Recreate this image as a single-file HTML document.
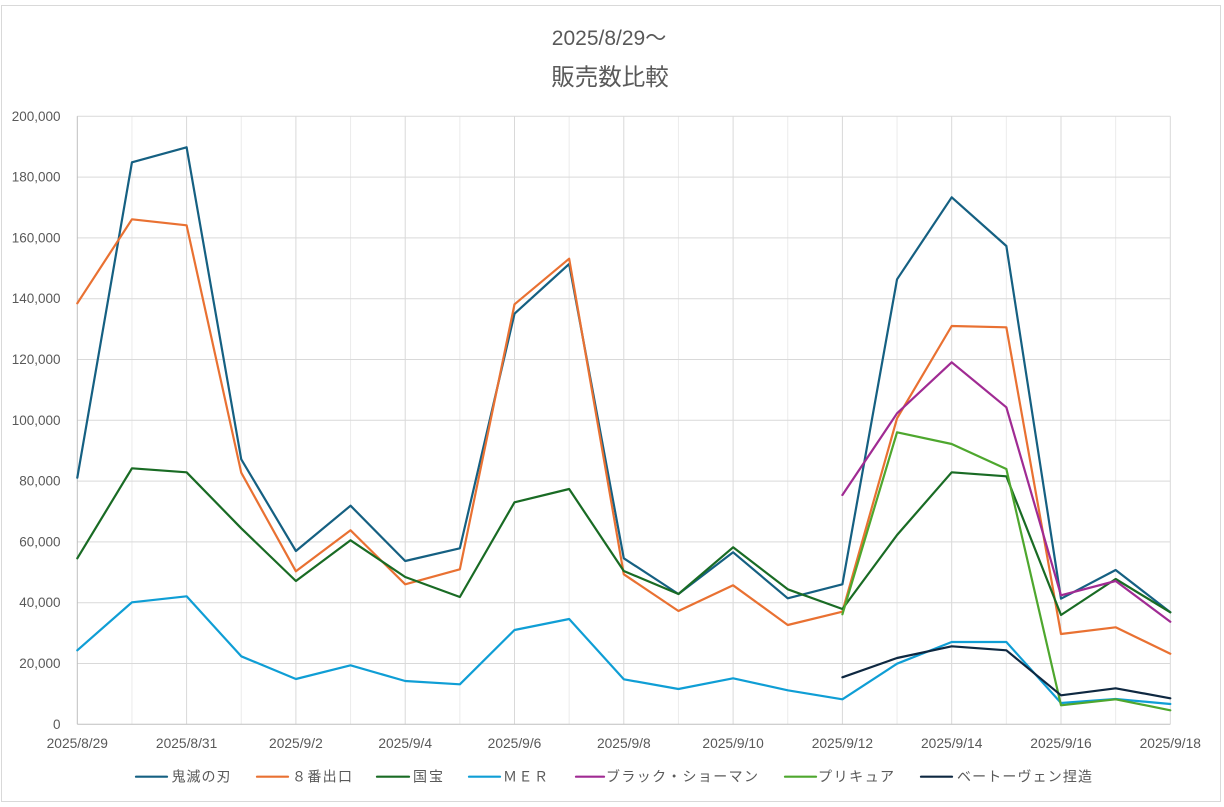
<!DOCTYPE html>
<html>
<head>
<meta charset="utf-8">
<style>
  html,body{margin:0;padding:0;background:#fff;}
  svg{display:block;}
  text{font-family:"Liberation Sans","Noto Sans CJK JP",sans-serif;fill:#595959;}
</style>
</head>
<body>
<svg width="1224" height="807" viewBox="0 0 1224 807" xmlns="http://www.w3.org/2000/svg">
  <rect x="0" y="0" width="1224" height="807" fill="#ffffff"/>
  <rect x="1.5" y="5.5" width="1219" height="796" fill="#ffffff" stroke="#d9d9d9" stroke-width="1"/>

  <!-- Title -->
  <text x="609" y="45" font-size="21" text-anchor="middle">2025/8/29～</text>
  <text x="610" y="85" font-size="23.5" text-anchor="middle">販売数比較</text>

  <!-- minor vertical gridlines -->
  <g stroke="#ececec" stroke-width="1">
    <line x1="131.95" y1="116.3" x2="131.95" y2="724.3"/>
    <line x1="241.25" y1="116.3" x2="241.25" y2="724.3"/>
    <line x1="350.55" y1="116.3" x2="350.55" y2="724.3"/>
    <line x1="459.85" y1="116.3" x2="459.85" y2="724.3"/>
    <line x1="569.15" y1="116.3" x2="569.15" y2="724.3"/>
    <line x1="678.45" y1="116.3" x2="678.45" y2="724.3"/>
    <line x1="787.75" y1="116.3" x2="787.75" y2="724.3"/>
    <line x1="897.05" y1="116.3" x2="897.05" y2="724.3"/>
    <line x1="1006.35" y1="116.3" x2="1006.35" y2="724.3"/>
    <line x1="1115.65" y1="116.3" x2="1115.65" y2="724.3"/>
  </g>
  <!-- major vertical gridlines -->
  <g stroke="#d9d9d9" stroke-width="1">
    <line x1="186.6" y1="116.3" x2="186.6" y2="724.3"/>
    <line x1="295.9" y1="116.3" x2="295.9" y2="724.3"/>
    <line x1="405.2" y1="116.3" x2="405.2" y2="724.3"/>
    <line x1="514.5" y1="116.3" x2="514.5" y2="724.3"/>
    <line x1="623.8" y1="116.3" x2="623.8" y2="724.3"/>
    <line x1="733.1" y1="116.3" x2="733.1" y2="724.3"/>
    <line x1="842.4" y1="116.3" x2="842.4" y2="724.3"/>
    <line x1="951.7" y1="116.3" x2="951.7" y2="724.3"/>
    <line x1="1061" y1="116.3" x2="1061" y2="724.3"/>
    <line x1="1170.3" y1="116.3" x2="1170.3" y2="724.3"/>
  </g>
  <!-- horizontal gridlines -->
  <g stroke="#d9d9d9" stroke-width="1">
    <line x1="77.3" y1="116.3" x2="1170.3" y2="116.3"/>
    <line x1="77.3" y1="177.1" x2="1170.3" y2="177.1"/>
    <line x1="77.3" y1="237.9" x2="1170.3" y2="237.9"/>
    <line x1="77.3" y1="298.7" x2="1170.3" y2="298.7"/>
    <line x1="77.3" y1="359.5" x2="1170.3" y2="359.5"/>
    <line x1="77.3" y1="420.3" x2="1170.3" y2="420.3"/>
    <line x1="77.3" y1="481.1" x2="1170.3" y2="481.1"/>
    <line x1="77.3" y1="541.9" x2="1170.3" y2="541.9"/>
    <line x1="77.3" y1="602.7" x2="1170.3" y2="602.7"/>
    <line x1="77.3" y1="663.5" x2="1170.3" y2="663.5"/>
  </g>
  <!-- axes -->
  <g stroke="#bfbfbf" stroke-width="1">
    <line x1="77.3" y1="116.3" x2="77.3" y2="724.3"/>
    <line x1="77.3" y1="724.3" x2="1170.3" y2="724.3"/>
  </g>

  <!-- Y labels -->
  <g font-size="13.5" text-anchor="end">
    <text x="60.5" y="120.8">200,000</text>
    <text x="60.5" y="181.6">180,000</text>
    <text x="60.5" y="242.4">160,000</text>
    <text x="60.5" y="303.2">140,000</text>
    <text x="60.5" y="364">120,000</text>
    <text x="60.5" y="424.8">100,000</text>
    <text x="60.5" y="485.6">80,000</text>
    <text x="60.5" y="546.4">60,000</text>
    <text x="60.5" y="607.2">40,000</text>
    <text x="60.5" y="668">20,000</text>
    <text x="60.5" y="728.8">0</text>
  </g>
  <!-- X labels -->
  <g font-size="13.8" text-anchor="middle">
    <text x="77.3" y="748">2025/8/29</text>
    <text x="186.6" y="748">2025/8/31</text>
    <text x="295.9" y="748">2025/9/2</text>
    <text x="405.2" y="748">2025/9/4</text>
    <text x="514.5" y="748">2025/9/6</text>
    <text x="623.8" y="748">2025/9/8</text>
    <text x="733.1" y="748">2025/9/10</text>
    <text x="842.4" y="748">2025/9/12</text>
    <text x="951.7" y="748">2025/9/14</text>
    <text x="1061" y="748">2025/9/16</text>
    <text x="1170.3" y="748">2025/9/18</text>
  </g>

  <!-- Series -->
  <g fill="none" stroke-width="2.2" stroke-linejoin="round" stroke-linecap="round">
    <polyline stroke="#156082" points="77.3,477.7 131.95,162.3 186.6,147.3 241.25,459.3 295.9,551 350.55,505.7 405.2,561 459.85,548.3 514.5,313.7 569.15,264 623.8,558.3 678.45,594 733.1,552.3 787.75,598.3 842.4,584.3 897.05,279.3 951.7,197.3 1006.35,246 1061,598.7 1115.65,570 1170.3,612.3"/>
    <polyline stroke="#E97132" points="77.3,303.3 131.95,219.3 186.6,225.3 241.25,472.7 295.9,571.3 350.55,530.3 405.2,584.3 459.85,569.3 514.5,304.3 569.15,258.7 623.8,574.3 678.45,611 733.1,585.3 787.75,625 842.4,611.7 897.05,418.3 951.7,326 1006.35,327.3 1061,634 1115.65,627.3 1170.3,653.7"/>
    <polyline stroke="#196B24" points="77.3,558.3 131.95,468.3 186.6,472.3 241.25,528.3 295.9,581 350.55,540.3 405.2,577 459.85,597 514.5,502.3 569.15,489 623.8,571 678.45,594 733.1,547.3 787.75,589.3 842.4,609 897.05,535 951.7,472.3 1006.35,476.3 1061,615 1115.65,579 1170.3,612.3"/>
    <polyline stroke="#0F9ED5" points="77.3,650.3 131.95,602.3 186.6,596.3 241.25,656.3 295.9,679 350.55,665.3 405.2,681 459.85,684.3 514.5,630 569.15,619 623.8,679.3 678.45,689 733.1,678.3 787.75,690.3 842.4,699.3 897.05,663.7 951.7,642 1006.35,642 1061,703 1115.65,699 1170.3,704"/>
    <polyline stroke="#A02B93" points="842.4,495 897.05,413.3 951.7,362.3 1006.35,407.3 1061,595.3 1115.65,581 1170.3,621.7"/>
    <polyline stroke="#4EA72E" points="842.4,614.3 897.05,432.3 951.7,444 1006.35,469 1061,705.3 1115.65,699.3 1170.3,710.3"/>
    <polyline stroke="#0E2841" points="842.4,677.3 897.05,658 951.7,646.3 1006.35,650.3 1061,695.3 1115.65,688.3 1170.3,698.3"/>
  </g>

  <!-- Legend -->
  <g stroke-width="2.2" stroke-linecap="round">
    <line x1="136" y1="776.7" x2="167" y2="776.7" stroke="#156082"/>
    <line x1="257" y1="776.7" x2="288" y2="776.7" stroke="#E97132"/>
    <line x1="377" y1="776.7" x2="409" y2="776.7" stroke="#196B24"/>
    <line x1="469" y1="776.7" x2="500" y2="776.7" stroke="#0F9ED5"/>
    <line x1="576" y1="776.7" x2="604" y2="776.7" stroke="#A02B93"/>
    <line x1="785" y1="776.7" x2="816" y2="776.7" stroke="#4EA72E"/>
    <line x1="921" y1="776.7" x2="952" y2="776.7" stroke="#0E2841"/>
  </g>
  <g font-size="14">
    <text x="171.5" y="781.5" textLength="59" lengthAdjust="spacing">鬼滅の刃</text>
    <text x="292" y="781.5" textLength="60" lengthAdjust="spacing">８番出口</text>
    <text x="413" y="781.5" textLength="30" lengthAdjust="spacing">国宝</text>
    <text x="503" y="781.5" textLength="45" lengthAdjust="spacing">ＭＥＲ</text>
    <text x="606" y="781.5" textLength="152" lengthAdjust="spacing">ブラック・ショーマン</text>
    <text x="818" y="781.5" textLength="76" lengthAdjust="spacing">プリキュア</text>
    <text x="957" y="781.5" textLength="135" lengthAdjust="spacing">ベートーヴェン捏造</text>
  </g>
</svg>
</body>
</html>
